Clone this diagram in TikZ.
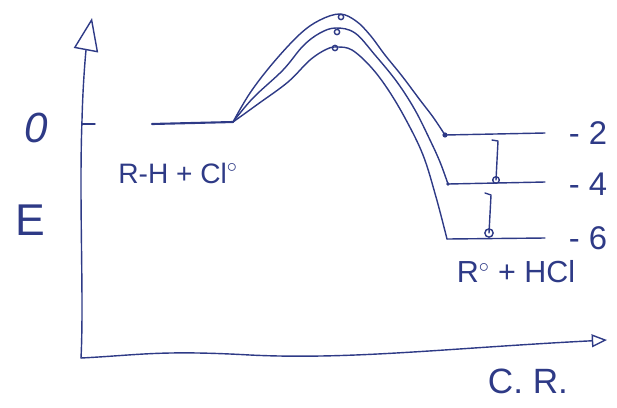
\documentclass[tikz,border=0pt]{standalone}
\usepackage{fontspec}
\setmainfont{Liberation Sans}
\usetikzlibrary{arrows.meta}
\definecolor{ink}{HTML}{2E3A86}
\tikzset{
  pen/.style={draw=ink, line width=1.2pt, line cap=round, line join=round},
  lbl/.style={text=ink, inner sep=0pt},
  bigarrow/.style={-{Triangle[open, length=28pt, width=21pt]}},
  openarrow/.style={-{Triangle[open, length=13pt, width=11pt]}}
}
\begin{document}
\begin{tikzpicture}[x=0.03cm, y=-0.03cm]
\useasboundingbox (0,0) rectangle (617,407);
% axes
\coordinate (origin) at (81,358);
\coordinate (ytip) at (92,18);
\coordinate (xtip) at (607,340);
\draw[pen, bigarrow] (origin) .. controls (84,300) and (79,200) .. (82,120) .. controls (83,80) and (86,50) .. (ytip);
\draw[pen, openarrow] (origin) .. controls (140,355) and (160,350) .. (250,355) .. controls (350,360) and (450,348) .. (xtip);
% tick at 0
\coordinate (tickA) at (82,124);
\coordinate (tickB) at (95,124);
\draw[pen] (tickA) -- (tickB);
% reactant level
\coordinate (r0) at (152,124);
\coordinate (r1) at (233,122);
\draw[pen, line width=1.8pt] (r0) -- (r1);
% product levels
\coordinate (p2a) at (445,135); \coordinate (p2b) at (545,133);
\coordinate (p4a) at (448,184); \coordinate (p4b) at (545,182);
\coordinate (p6a) at (447,239); \coordinate (p6b) at (545,238);
\draw[pen] (p2a) -- (p2b);
\draw[pen] (p4a) -- (p4b);
\draw[pen] (p6a) -- (p6b);
\fill[ink] (p2a) circle (2.2pt);
\fill[ink] (p4a) circle (1.6pt);
% energy curves
\draw[pen] plot[smooth, tension=0.6] coordinates {(233,122) (250,93) (273,63) (300,34) (320,20) (340,14) (356,21) (370,35) (385,55) (402,76) (420,100) (433,117) (445,135)};
\draw[pen] plot[smooth, tension=0.6] coordinates {(233,122) (253,98) (283,70) (303,46) (320,33) (336,28) (355,33) (375,55) (397,82) (415,110) (430,140) (440,162) (448,184)};
\draw[pen] plot[smooth, tension=0.6] coordinates {(233,122) (258,104) (288,82) (310,60) (327,49) (338,47) (352,50) (370,66) (387,88) (405,118) (423,155) (436,197) (447,239)};
% small marks at peaks
\node[pen, circle, inner sep=1.6pt] (m1) at (341,17) {};
\node[pen, circle, inner sep=1.6pt] (m2) at (337,32) {};
\node[pen, circle, inner sep=1.6pt] (m3) at (335,48) {};
% vertical gap markers
\coordinate (g1t) at (498,141);
\coordinate (g1b) at (496,180);
\coordinate (g2t) at (491,195);
\coordinate (g2b) at (489,233);
\draw[pen] (492,140) -- (g1t) -- (g1b);
\node[pen, circle, inner sep=2pt] (c1) at (g1b) {};
\draw[pen] (485,193) -- (g2t) -- (g2b);
\node[pen, circle, inner sep=2.5pt] (c2) at (g2b) {};
% labels
\node[lbl, font=\fontsize{36}{40}\selectfont\itshape] (zero) at (36,128) {0};
\node[lbl, font=\fontsize{38}{40}\selectfont] (E) at (30,220) {E};
\node[lbl, font=\fontsize{24}{28}\selectfont] (react) at (178,173) {R-H + Cl$^{\circ}$};
\node[lbl, font=\fontsize{28}{30}\selectfont] (l2) at (588,133) {- 2};
\node[lbl, font=\fontsize{28}{30}\selectfont] (l4) at (588,184) {- 4};
\node[lbl, font=\fontsize{28}{30}\selectfont] (l6) at (588,238) {- 6};
\node[lbl, font=\fontsize{26}{28}\selectfont] (prod) at (516,272) {R$^{\circ}$ + HCl};
\node[lbl, font=\fontsize{30}{32}\selectfont] (cr) at (528,381) {C. R.};
\end{tikzpicture}
\end{document}
